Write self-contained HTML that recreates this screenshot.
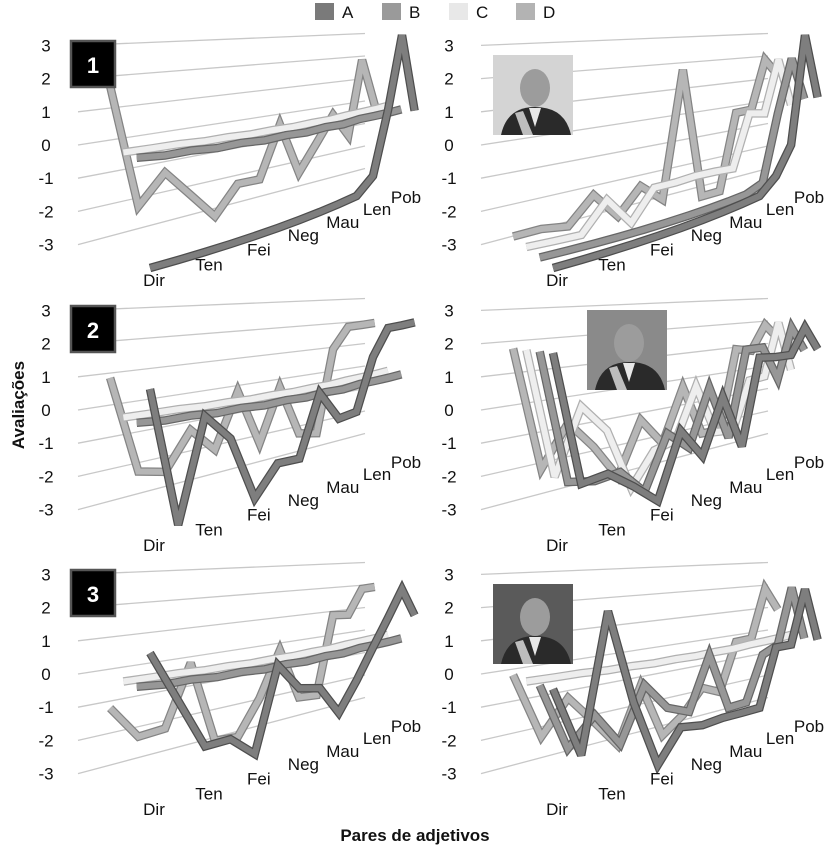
<!DOCTYPE html>
<html>
<head>
<meta charset="utf-8">
<style>
html,body{margin:0;padding:0;background:#fff;}
body{width:831px;height:855px;overflow:hidden;font-family:"Liberation Sans",Arial,sans-serif;}
svg text{font-family:"Liberation Sans",Arial,sans-serif;}
</style>
</head>
<body>
<svg id="chart" width="831" height="855" viewBox="0 0 831 855" xmlns="http://www.w3.org/2000/svg">
  <g id="legend"></g>
  <g id="panels"></g>
  <text x="0" y="0" transform="translate(24,405) rotate(-90)" text-anchor="middle" font-size="17" font-weight="bold" fill="#111">Avaliações</text>
  <text x="415" y="841" text-anchor="middle" font-size="17" font-weight="bold" fill="#111">Pares de adjetivos</text>
</svg>
<script>
// ---- data ----
const seriesNames = ["A","B","C","D"];
const tickLabels = ["Dir","Ten","Fei","Neg","Mau","Len","Pob"];
const categoryCount = 14;
const yTicks = [-3,-2,-1,0,1,2,3];

// Panel 1 (left)
const p1L_A = [-3,-3,-3,-3,-3,-3,-3,-3,-3,-3,-2.5,0,3,-0.6];
const p1L_B = [0.5,0.4,0.4,0.3,0.3,0.2,0.2,0.1,0.1,0,0,-0.1,-0.2,-0.3];
const p1L_C = [0.5,0.5,0.5,0.45,0.45,0.4,0.4,0.35,0.35,0.3,0.3,0.25,0.2,0.15];
const p1L_D = [2.9,-2,-0.8,-1.9,-3,-1.8,-1.8,0.5,-1.9,-0.7,0.5,-0.7,3,0.5];
// Panel 1 (right)
const p1R_A = [-3,-3,-3,-3,-3,-3,-3,-3,-3,-3,-2.5,-1.5,3,0];
const p1R_B = [-3,-3,-3,-3,-3,-3,-3,-3,-3,-3,-2.8,0,2.3,0.2];
const p1R_C = [-3,-3,-3,-1.85,-3,-1.8,-1.8,-1.75,-1.8,-1.9,0.4,0.2,2.6,0.2];
const p1R_D = [-3,-2.9,-3,-1.9,-3,-1.9,-2.7,3,-3,-3,0.6,0.6,3,2.1];
// Panel 2 (left)
const p2L_A = [1.8,-3,0.5,-0.5,-2.9,-1.9,-2,0.25,-1,-1,1,2,1.9,1.8];
const p2L_B = [0.5,0.4,0.4,0.3,0.3,0.2,0.2,0.1,0.1,0,0,-0.1,-0.2,-0.3];
const p2L_C = [0.5,0.5,0.5,0.45,0.45,0.4,0.4,0.35,0.35,0.3,0.3,0.25,0.2,0.15];
const p2L_D = [1.85,-2,-2.2,-0.65,-1.65,0.7,-1.75,0.6,-1.7,-1.9,2,3,3,3];
// Panel 2 (right)
const p2R_A = [3,-1.6,-1.5,-2.2,-3,-0.7,-1.9,0.1,-2.1,1.2,1,0.85,1.8,0.6];
const p2R_B = [3,-1.8,-2,-1.9,-2.9,-0.9,-1.7,0.5,-1.8,1.7,1.6,0,2.1,0.85];
const p2R_C = [3,-1.9,0.6,-0.5,-3,-1.7,-1.5,0.6,-1.6,-1.75,0.3,0.3,2.7,0.2];
const p2R_D = [3,-1.9,-0.2,-1.35,-2.8,-0.55,-1.75,0.6,-1.7,-1.75,2,1.8,3,2.2];
// Panel 3 (left)
const p3L_A = [1.8,0,-1.8,-1.8,-2.6,0.4,-0.7,-0.95,-2.2,-1.2,-0.1,0.9,1.9,0.5];
const p3L_B = [0.5,0.4,0.4,0.3,0.3,0.2,0.2,0.1,0.1,0,0,-0.1,-0.2,-0.3];
const p3L_C = [0.5,0.5,0.5,0.45,0.45,0.4,0.4,0.35,0.35,0.3,0.3,0.25,0.2,0.15];
const p3L_D = [-0.75,-2.05,-1.9,0.65,-2.8,-2.85,-1.35,0.65,-1.7,-1.8,1.9,1.8,3,3];
// Panel 3 (right)
const p3R_A = [0.6,-1.85,2.9,-0.5,-3,-1.9,-2.1,-2.1,-2.2,-2.3,-0.1,-0.25,1.9,-0.6];
const p3R_B = [0.55,-1.9,-0.9,-2.2,-0.2,-1.3,-1.7,0.35,-2.05,-2.1,-0.3,-0.1,2.3,-0.3];
const p3R_C = [0.5,0.5,0.5,0.45,0.45,0.4,0.4,0.35,0.35,0.3,0.3,0.25,0.2,0.15];
const p3R_D = [0.55,-2.05,-0.65,-1.8,-3,-0.6,-3,-2.3,-1.25,-1.65,0.6,0.6,3,1.8];

// ---- styling / layout ----
const NS = "http://www.w3.org/2000/svg";
const fills = ["#7e7e7e","#979797","#eeeeee","#b6b6b6"];
const edges = ["#4e4e4e","#666666","#b0b0b0","#848484"];
const legendFills = ["#7a7a7a","#9a9a9a","#e8e8e8","#b3b3b3"];

function mk(tag, attrs, parent){
  const e = document.createElementNS(NS, tag);
  for (const k in attrs) e.setAttribute(k, attrs[k]);
  parent.appendChild(e);
  return e;
}
// axis functions
function xFront(i){ return 150 + 28.8*i - 0.65*i*i; }
function xPos(i,d){ return xFront(i) - 13.3*d; }
function yPos(i,d,v){
  const y0 = 178 - 6*d - i*(6.2 - 0.9*d);
  const s = (30 - 0.6*i) * (1 - 0.05*d);
  return y0 - v*s;
}
function gridY(v, side){ return side === 0 ? 145 - 33.2*v : 101 - 22.5*v; }

// legend
const legend = document.getElementById('legend');
seriesNames.forEach((n, k) => {
  const x = 315 + k*67;
  const r = mk('rect', {x:x, y:3, width:19, height:17, fill:legendFills[k]}, legend);
  
  
  const t = mk('text', {x:x+27, y:18, 'font-size':17, fill:'#111'}, legend);
  
  
  t.textContent = n;
});

const panelDefs = [
  {ox:0,   oy:0,   num:"1", photo:null, data:[p1L_A,p1L_B,p1L_C,p1L_D]},
  {ox:403, oy:0,   num:null, photo:[493,55,"light"], data:[p1R_A,p1R_B,p1R_C,p1R_D]},
  {ox:0,   oy:265, num:"2", photo:null, data:[p2L_A,p2L_B,p2L_C,p2L_D]},
  {ox:403, oy:265, num:null, photo:[587,310,"mid"], data:[p2R_A,p2R_B,p2R_C,p2R_D]},
  {ox:0,   oy:529, num:"3", photo:null, data:[p3L_A,p3L_B,p3L_C,p3L_D]},
  {ox:403, oy:529, num:null, photo:[493,584,"dark"], data:[p3R_A,p3R_B,p3R_C,p3R_D]}
];

const panelsG = document.getElementById('panels');
panelDefs.forEach((p, pi) => {
  const g = mk('g', {transform:'translate('+p.ox+','+p.oy+')'}, panelsG);
  
  
  // gridlines + y ticks
  yTicks.forEach(v => {
    const l = mk('line', {x1:78, y1:gridY(v,0), x2:365, y2:gridY(v,1), stroke:'#c8c8c8', 'stroke-width':1.3}, g);
    
    
    const t = mk('text', {x:46, y:gridY(v,0)+6, 'text-anchor':'middle', 'font-size':17, fill:'#111'}, g);
    
    
    t.textContent = String(v);
  });
  // series back to front
  for (let d = 3; d >= 0; d--) {
    const vals = p.data[d];
    const pts = vals.map((v, i) => xPos(i,d).toFixed(1) + ',' + yPos(i,d,v).toFixed(1)).join(' ');
    const sg = mk('g', {}, g);
    
    
    const e1 = mk('polyline', {points:pts, fill:'none', stroke:edges[d], 'stroke-width':8.5, 'stroke-linejoin':'miter', 'stroke-miterlimit':3}, sg);
    
    
    const e2 = mk('polyline', {points:pts, fill:'none', stroke:fills[d], 'stroke-width':6, 'stroke-linejoin':'miter', 'stroke-miterlimit':3}, sg);
    
    
  }
  // category labels
  tickLabels.forEach((lab, k) => {
    const i = k*2;
    const y = yPos(i,0,-3) + 12 + 0.09*i*i;
    const t = mk('text', {x:xFront(i)+4, y:y+6, 'text-anchor':'middle', 'font-size':17, fill:'#111'}, g);
    
    
    t.textContent = lab;
  });
  // number box
  if (p.num) {
    const r = mk('rect', {x:71, y:41, width:44, height:46, fill:'#000', stroke:'#555', 'stroke-width':2.5}, g);
    
    
    const t = mk('text', {x:93, y:73, 'text-anchor':'middle', 'font-size':22, 'font-weight':'bold', fill:'#fff'}, g);
    
    
    t.textContent = p.num;
  }
});

// photos (drawn in absolute coords)
panelDefs.forEach(p => {
  if (!p.photo) return;
  const [x, y, tone] = p.photo;
  const bg = tone === 'dark' ? '#5a5a5a' : (tone === 'mid' ? '#8a8a8a' : '#d4d4d4');
  const g = mk('g', {}, panelsG);
  
  
  mk('rect', {x:x, y:y, width:80, height:80, fill:bg}, g);
  mk('ellipse', {cx:x+42, cy:y+33, rx:15, ry:19, fill:'#9c9c9c'}, g);
  mk('path', {d:'M'+(x+8)+' '+(y+80)+' Q'+(x+14)+' '+(y+52)+' '+(x+42)+' '+(y+52)+' Q'+(x+72)+' '+(y+52)+' '+(x+78)+' '+(y+80)+' Z', fill:'#2a2a2a'}, g);
  mk('path', {d:'M'+(x+36)+' '+(y+53)+' L'+(x+48)+' '+(y+53)+' L'+(x+42)+' '+(y+72)+' Z', fill:'#e8e8e8'}, g);
  mk('path', {d:'M'+(x+22)+' '+(y+58)+' L'+(x+30)+' '+(y+56)+' L'+(x+40)+' '+(y+80)+' L'+(x+30)+' '+(y+80)+' Z', fill:'#bdbdbd'}, g);
});
</script>
</body>
</html>
